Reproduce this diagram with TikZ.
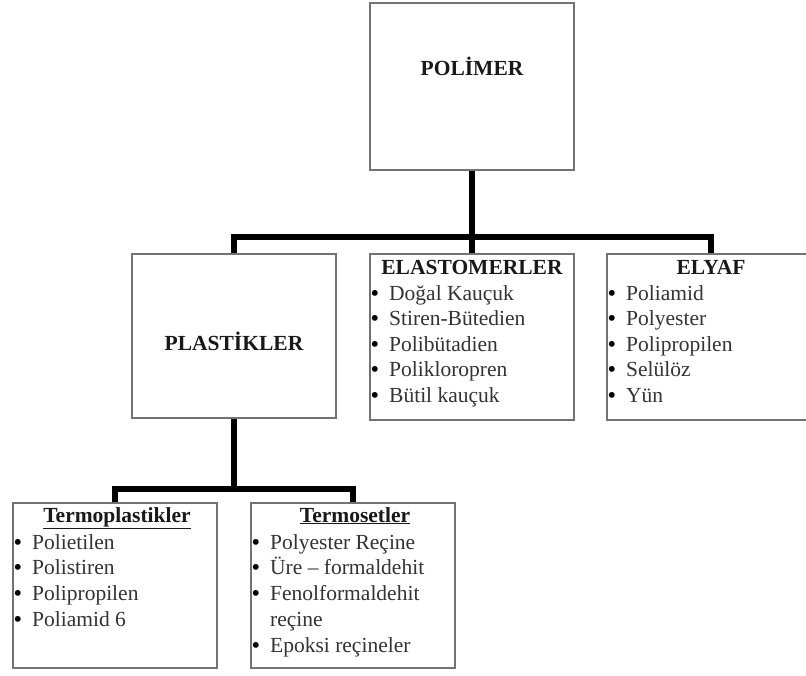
\documentclass[tikz,border=0pt]{standalone}
\usepackage{fontspec}
\setmainfont{Liberation Serif}
\tikzset{
  kutu/.style={draw=black!55, line width=1.2pt, inner sep=0pt},
  baslik/.style={font=\fontsize{21.5}{25.5}\selectfont\bfseries, text=black!90, anchor=base, inner sep=0pt},
  madde/.style={font=\fontsize{21.5}{25.5}\selectfont, text=black!80, anchor=base west, inner sep=0pt},
  bag/.style={line width=6pt, black}
}
\newcommand{\itm}[1]{\makebox[18pt][l]{\textcolor{black}{\bfseries\textbullet}}#1}
\newcommand{\nob}[1]{\hspace*{18pt}#1}
\begin{document}
\begin{tikzpicture}[x=1pt,y=-1pt]
\useasboundingbox (0,0) rectangle (806,675);
% kutular
\node[kutu, minimum width=204pt, minimum height=167pt] (pol) at (472,86.5) {};
\node[kutu, minimum width=204pt, minimum height=164pt] (pla) at (234,336) {};
\node[kutu, minimum width=204pt, minimum height=166pt] (ela) at (472,337) {};
\node[kutu, minimum width=208pt, minimum height=166pt] (ely) at (711,337) {};
\node[kutu, minimum width=204pt, minimum height=165pt] (tp) at (115,585.5) {};
\node[kutu, minimum width=204pt, minimum height=165pt] (ts) at (353,585.5) {};
% baglantilar
\coordinate (k1) at (0,237);
\coordinate (k2) at (0,489);
\draw[bag] (pol.south) -- (pol.south |- k1);
\draw[bag] (pla.north) |- (k1 -| ely.north) -- (ely.north);
\draw[bag] (ela.north) -- (ela.north |- k1);
\draw[bag] (pla.south) -- (pla.south |- k2);
\draw[bag] (tp.north) |- (k2 -| ts.north) -- (ts.north);
% basliklar
\node[baslik] (polT) at (472,75) {POLİMER};
\node[baslik] (plaT) at (234,350) {PLASTİKLER};
\node[baslik] (elaT) at (472,274) {ELASTOMERLER};
\node[baslik] (elyT) at (711,274) {ELYAF};
\node[baslik] (tpT) at (117,522) {\underline{Termoplastikler}};
\node[baslik] (tsT) at (355,522) {\underline{Termosetler}};
% maddeler
\foreach \t [count=\i] in {Doğal Kauçuk, Stiren-Bütedien, Polibütadien, Polikloropren, Bütil kauçuk}
  \node[madde] (ela\i) at (371,{300+25.5*(\i-1)}) {\itm{\t}};
\foreach \t [count=\i] in {Poliamid, Polyester, Polipropilen, Selülöz, Yün}
  \node[madde] (ely\i) at (608,{300+25.5*(\i-1)}) {\itm{\t}};
\foreach \t [count=\i] in {Polietilen, Polistiren, Polipropilen, Poliamid 6}
  \node[madde] (tp\i) at (14,{549+25.75*(\i-1)}) {\itm{\t}};
\foreach \t [count=\i] in {\itm{Polyester Reçine}, \itm{Üre – formaldehit}, \itm{Fenolformaldehit}, \nob{reçine}, \itm{Epoksi reçineler}}
  \node[madde] (ts\i) at (252,{549+25.75*(\i-1)}) {\t};
\end{tikzpicture}
\end{document}
